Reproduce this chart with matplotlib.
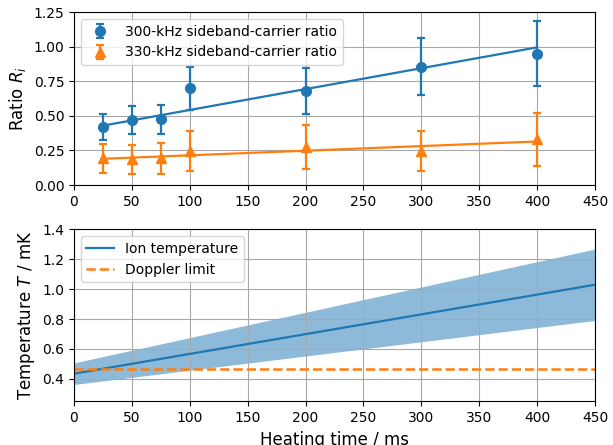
import numpy as np
import matplotlib.pyplot as plt

# heating times (ms) and measured sideband-carrier ratios
t_ms = [25, 50, 75, 100, 200, 300, 400]
r300 = [0.42, 0.47, 0.475, 0.70, 0.68, 0.855, 0.95]
r300_err = [0.095, 0.10, 0.107, 0.155, 0.166, 0.205, 0.235]
r330 = [0.193, 0.186, 0.193, 0.248, 0.275, 0.248, 0.33]
r330_err = [0.106, 0.103, 0.11, 0.145, 0.16, 0.145, 0.19]

# linear fits (intercept, slope per ms)
fit300 = (0.392, 0.001507)
fit330 = (0.182, 0.000333)

# ion temperature model T = T0 + rate * t (mK)
T0, dT0 = 0.435, 0.072
rate, drate = 0.00132, 0.00037
doppler_limit = 0.469

plt.rcParams['grid.color'] = '#a8a8a8'

fig = plt.figure(figsize=(6.13, 4.45), dpi=100)
ax1 = fig.add_axes([0.1207, 0.584, 0.8499, 0.389])
ax2 = fig.add_axes([0.1207, 0.098, 0.8499, 0.387])

c1, c2 = 'tab:blue', 'tab:orange'
tt = np.array(t_ms)

ax1.errorbar(t_ms, r300, yerr=r300_err, fmt='o', color=c1, capsize=3,
             markersize=7, elinewidth=1.6, capthick=1.6,
             label='300-kHz sideband-carrier ratio')
ax1.errorbar(t_ms, r330, yerr=r330_err, fmt='^', color=c2, capsize=3,
             markersize=7, elinewidth=1.6, capthick=1.6,
             label='330-kHz sideband-carrier ratio')
xf = np.array([tt.min(), tt.max()])
ax1.plot(xf, fit300[0] + fit300[1] * xf, color=c1, lw=1.6)
ax1.plot(xf, fit330[0] + fit330[1] * xf, color=c2, lw=1.6)
ax1.set_xlim(0, 450)
ax1.set_ylim(0, 1.25)
ax1.set_xticks(np.arange(0, 451, 50))
ax1.set_ylabel('Ratio $R_i$', fontsize=12)
ax1.grid(True)
ax1.legend(loc='upper left')

t = np.linspace(0, 450, 200)
T = T0 + rate * t
ax2.fill_between(t, (T0 - dT0) + (rate - drate) * t, (T0 + dT0) + (rate + drate) * t,
                 color=c1, alpha=0.5, linewidth=0)
ax2.plot(t, T, color=c1, lw=1.6, label='Ion temperature')
ax2.axhline(doppler_limit, color=c2, linestyle='--', lw=1.8, label='Doppler limit')
ax2.set_xlim(0, 450)
ax2.set_ylim(0.25, 1.4)
ax2.set_xticks(np.arange(0, 451, 50))
ax2.set_yticks([0.4, 0.6, 0.8, 1.0, 1.2, 1.4])
ax2.set_xlabel('Heating time / ms', fontsize=12)
ax2.set_ylabel('Temperature $T$ / mK', fontsize=12)
ax2.grid(True)
ax2.legend(loc='upper left')

fig.savefig('out.png', dpi=100)
